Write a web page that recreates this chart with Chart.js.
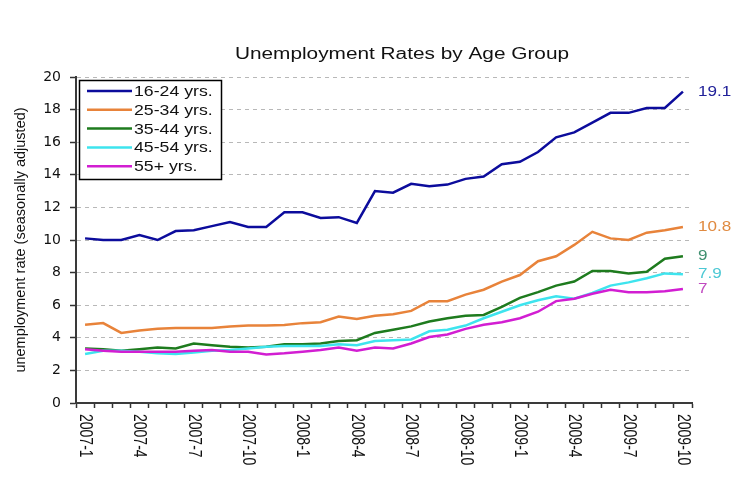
<!DOCTYPE html>
<html>
<head>
<meta charset="utf-8">
<script src="https://cdn.jsdelivr.net/npm/chart.js@4.4.1/dist/chart.umd.min.js"></script>
<style>
html, body { margin: 0; padding: 0; background: #fff; }
</style>
</head>
<body>
<canvas id="myChart" width="748" height="483"></canvas>
<script>
// monthly data, Jan 2007 - Oct 2009
var months = ['2007-1', '2007-2', '2007-3', '2007-4', '2007-5', '2007-6', '2007-7', '2007-8', '2007-9', '2007-10', '2007-11', '2007-12',
	'2008-1', '2008-2', '2008-3', '2008-4', '2008-5', '2008-6', '2008-7', '2008-8', '2008-9', '2008-10', '2008-11', '2008-12',
	'2009-1', '2009-2', '2009-3', '2009-4', '2009-5', '2009-6', '2009-7', '2009-8', '2009-9', '2009-10'];

var groups = ['16-24 yrs.', '25-34 yrs.', '35-44 yrs.', '45-54 yrs.', '55+ yrs.'];

var age16to24 = [10.1, 10.0, 10.0, 10.3, 10.0, 10.55, 10.6, 10.85, 11.1, 10.8, 10.8, 11.7, 11.7, 11.35, 11.4, 11.05, 13.0, 12.9, 13.45, 13.3,
	13.4, 13.75, 13.9, 14.65, 14.8, 15.4, 16.3, 16.6, 17.2, 17.8, 17.8, 18.1, 18.1, 19.1];
var age25to34 = [4.8, 4.9, 4.3, 4.45, 4.55, 4.6, 4.6, 4.6, 4.7, 4.75, 4.75, 4.78, 4.9, 4.95, 5.3, 5.15, 5.35, 5.45, 5.65, 6.25,
	6.25, 6.65, 6.95, 7.45, 7.85, 8.7, 9.0, 9.7, 10.5, 10.1, 10.0, 10.45, 10.6, 10.8];
var age35to44 = [3.35, 3.3, 3.2, 3.3, 3.4, 3.35, 3.65, 3.55, 3.45, 3.4, 3.45, 3.6, 3.6, 3.65, 3.8, 3.85, 4.3, 4.5, 4.7, 5.0,
	5.2, 5.35, 5.4, 5.9, 6.45, 6.8, 7.2, 7.45, 8.1, 8.1, 7.95, 8.05, 8.85, 9.0];
var age45to54 = [3.0, 3.2, 3.2, 3.15, 3.05, 3.0, 3.1, 3.2, 3.25, 3.35, 3.45, 3.5, 3.5, 3.5, 3.6, 3.55, 3.8, 3.85, 3.9, 4.4,
	4.5, 4.75, 5.2, 5.6, 6.0, 6.3, 6.55, 6.4, 6.75, 7.2, 7.4, 7.65, 7.95, 7.9];
var age55plus = [3.3, 3.2, 3.15, 3.15, 3.15, 3.15, 3.2, 3.25, 3.15, 3.15, 2.98, 3.05, 3.15, 3.25, 3.4, 3.2, 3.4, 3.35, 3.65, 4.05,
	4.2, 4.55, 4.8, 4.95, 5.2, 5.6, 6.25, 6.4, 6.7, 6.95, 6.8, 6.8, 6.85, 7.0];

var endLabels = ['19.1', '10.8', '9', '7.9', '7'];

var lineColors = ['#0c0c9c', '#e8833a', '#1e7b1e', '#3ee4ee', '#d21ed2'];
var labelColors = ['#22229a', '#e08a40', '#3f8f6f', '#4cc8d4', '#c04ac0'];

var title = 'Unemployment Rates by Age Group';
var yTitle = 'unemployment rate (seasonally adjusted)';

var allSeries = [age16to24, age25to34, age35to44, age45to54, age55plus];
var ds = [];
for (var i = 0; i < allSeries.length; i++) {
	ds.push({
		label: groups[i],
		data: allSeries[i],
		borderColor: lineColors[i],
		backgroundColor: lineColors[i],
		borderWidth: 2.5,
		pointRadius: 0,
		tension: 0,
		fill: false,
		order: allSeries.length - i // later series on top, like the original
	});
}

// draws title, rotated month labels, end labels and the boxed legend
var decor = {
	id: 'decor',
	afterDraw: function (chart) {
		var ctx = chart.ctx;
		var area = chart.chartArea;
		var xs = chart.scales.x;
		var ys = chart.scales.y;

		function wideText(txt, px, py, sx, font, color, align, base) {
			ctx.save();
			ctx.font = font;
			ctx.fillStyle = color;
			ctx.textAlign = align;
			ctx.textBaseline = base;
			ctx.translate(px, py);
			ctx.scale(sx, 1);
			ctx.fillText(txt, 0, 0);
			ctx.restore();
		}

		// title
		wideText(title, (area.left + area.right) / 2 + 18, area.top - 18.5, 1.3,
			'16px "Liberation Sans"', '#111', 'center', 'alphabetic');

		// x labels, every third month, reading top to bottom
		for (var i = 0; i < months.length; i += 3) {
			ctx.save();
			ctx.font = '14px "Liberation Sans"';
			ctx.fillStyle = '#111';
			ctx.textAlign = 'left';
			ctx.textBaseline = 'middle';
			ctx.translate(xs.getPixelForValue(i), area.bottom + 11);
			ctx.rotate(Math.PI / 2);
			ctx.scale(1, 1.3);
			ctx.fillText(months[i], 0, 0);
			ctx.restore();
		}

		// value at the end of each line
		var last = months.length - 1;
		for (var k = 0; k < allSeries.length; k++) {
			wideText(endLabels[k], xs.getPixelForValue(last) + 15, ys.getPixelForValue(allSeries[k][last]), 1.22,
				'14px "Liberation Sans"', labelColors[k], 'left', 'middle');
		}

		// legend box
		var lx = area.left + 3, ly = area.top + 3, lw = 142, lh = 99;
		ctx.save();
		ctx.fillStyle = '#fff';
		ctx.fillRect(lx, ly, lw, lh);
		ctx.strokeStyle = '#000';
		ctx.lineWidth = 1.5;
		ctx.strokeRect(lx + 0.5, ly + 0.5, lw, lh);
		ctx.restore();
		for (var j = 0; j < groups.length; j++) {
			var cy = ly + 11 + j * 18.8;
			ctx.save();
			ctx.strokeStyle = lineColors[j];
			ctx.lineWidth = 2.5;
			ctx.beginPath();
			ctx.moveTo(lx + 8, cy);
			ctx.lineTo(lx + 53, cy);
			ctx.stroke();
			ctx.restore();
			wideText(groups[j], lx + 55, cy + 1, 1.22, '14.5px "Liberation Sans"', '#111', 'left', 'middle');
		}
	}
};

var ctx = document.getElementById('myChart').getContext('2d');
new Chart(ctx, {
	type: 'line',
	data: {
		labels: months,
		datasets: ds
	},
	options: {
		responsive: false,
		animation: false,
		layout: { padding: { left: 0, right: 56, top: 77, bottom: 0 } },
		plugins: {
			legend: { display: false },
			title: { display: false },
			tooltip: { enabled: false }
		},
		scales: {
			x: {
				offset: true,
				grid: { offset: true, drawOnChartArea: false, drawTicks: true, tickLength: 5, tickColor: '#333', tickWidth: 1.5 },
				border: { color: '#3a3a3a', width: 2 },
				ticks: { display: false },
				afterFit: function (s) { s.height = 80; }
			},
			y: {
				min: 0,
				max: 20,
				ticks: { stepSize: 2, color: '#111', font: { family: 'DejaVu Sans', size: 14 }, padding: 9 },
				grid: {
					color: function (c) { return c.tick && c.tick.value === 0 ? 'rgba(0,0,0,0)' : '#b8b8b8'; },
					tickColor: '#333',
					tickLength: 6,
					tickWidth: 1.5
				},
				border: { color: '#3a3a3a', width: 2, dash: [4, 4] },
				title: {
					display: true,
					text: yTitle,
					color: '#111',
					font: { family: 'Liberation Sans', size: 14.5 },
					padding: { top: 12, bottom: 0 }
				},
				afterFit: function (s) { s.width = 76; }
			}
		}
	},
	plugins: [decor]
});
</script>
</body>
</html>
